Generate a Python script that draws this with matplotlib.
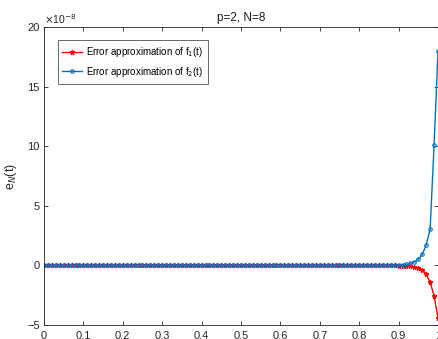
import matplotlib.pyplot as plt
import numpy as np

plt.rcParams['font.family'] = ['Liberation Sans', 'DejaVu Sans']

# t = 0, 0.01, ..., 1 (101 points); error values in units of 1e-8
t = np.linspace(0, 1, 101)
err_f1_tail = [-0.01, -0.02, -0.04, -0.07, -0.12, -0.2, -0.38, -0.73, -1.42, -2.55, -4.4]
err_f2_tail = [0.02, 0.04, 0.08, 0.17, 0.28, 0.5, 0.92, 1.7, 3.04, 10.08, 17.95]
err_f1 = np.array([0.0] * 90 + err_f1_tail)
err_f2 = np.array([0.0] * 90 + err_f2_tail)

labels = ['Error approximation of f$_1$(t)', 'Error approximation of f$_2$(t)']
xticks = np.arange(0, 1.01, 0.1)
yticks = [-5, 0, 5, 10, 15, 20]

fig = plt.figure(figsize=(4.39, 3.39), dpi=100)
ax = fig.add_axes([44 / 439, 1 - 325 / 339, 394 / 439, 298 / 339])

ax.plot(t, err_f1, '-*', color='#FF0000', lw=1.0, ms=3.5, mew=0.8, label=labels[0])
ax.plot(t, err_f2, '-o', color='#0072BD', lw=1.0, ms=2.5, mew=0.8,
        mfc='none', label=labels[1])

ax.set_xlim(0, 1)
ax.set_ylim(-5, 20)
ax.set_xticks(xticks)
ax.set_xticklabels(['0'] + [f'{v:.1f}' for v in xticks[1:-1]] + ['1'])
ax.set_yticks(yticks)
ax.tick_params(direction='in', top=True, right=True, labelsize=8,
               length=3, width=0.6, colors='#262626', pad=3)
ax.tick_params(axis='x', pad=4.5)
for s in ax.spines.values():
    s.set_linewidth(0.6)
    s.set_color('#262626')

ax.set_title('p=2, N=8', fontsize=8.5, pad=4, color='#1a1a1a')
ax.set_ylabel('e$_N$(t)', fontsize=9, color='#262626', labelpad=6)
ax.text(0.0, 1.005, r'$\times$10$^{-8}$', transform=ax.transAxes, fontsize=7.5,
        color='#262626', va='bottom', ha='left')

leg = ax.legend(loc='upper left', fontsize=7, frameon=True, fancybox=False,
                edgecolor='#262626', borderpad=0.5, handlelength=2.0,
                handletextpad=0.4, labelspacing=0.6,
                bbox_to_anchor=(0.022, 0.972))
leg.get_frame().set_linewidth(0.6)

fig.savefig('out.png', dpi=100)
